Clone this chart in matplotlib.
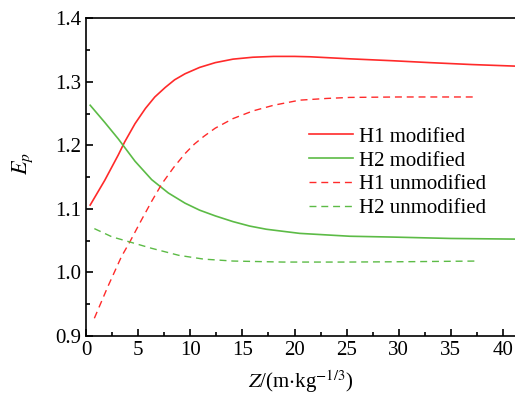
import matplotlib
matplotlib.use('Agg')
import matplotlib.pyplot as plt
from matplotlib.ticker import MultipleLocator

# values
z_h1_mod = [0.4, 1.8, 3.1, 3.7, 4.7, 5.7, 6.6, 7.6, 8.5, 9.5, 10.9, 12.4, 14.1, 16.0,
            18.0, 20.0, 21.5, 25.3, 29.4, 33.0, 37.0, 41.2]
h1_mod = [1.106, 1.145, 1.185, 1.205, 1.234, 1.258, 1.276, 1.291, 1.303, 1.3125, 1.3225,
          1.330, 1.3355, 1.3385, 1.3398, 1.3398, 1.3392, 1.336, 1.333, 1.330, 1.327, 1.3245]

z_h2_mod = [0.4, 1.8, 3.1, 4.7, 6.3, 7.9, 9.5, 10.9, 12.4, 14.1, 15.7, 17.3, 20.5, 25.3,
            29.4, 35.0, 41.2]
h2_mod = [1.263, 1.236, 1.210, 1.175, 1.146, 1.125, 1.109, 1.098, 1.089, 1.080, 1.073,
          1.068, 1.0615, 1.057, 1.0557, 1.0535, 1.0525]

z_h1_unmod = [0.8, 2.1, 3.4, 4.2, 5.3, 6.3, 7.3, 8.4, 9.5, 10.4, 11.3, 12.4, 14.1, 16.0,
              18.0, 20.5, 23.1, 25.3, 30.0, 37.3]
h1_unmod = [0.928, 0.978, 1.025, 1.048, 1.082, 1.112, 1.140, 1.165, 1.187, 1.202, 1.214,
            1.227, 1.242, 1.254, 1.263, 1.271, 1.2737, 1.2753, 1.276, 1.276]

z_h2_unmod = [0.8, 2.5, 4.2, 6.3, 8.9, 11.3, 14.1, 18.9, 25.0, 31.0, 37.6]
h2_unmod = [1.069, 1.056, 1.048, 1.038, 1.027, 1.021, 1.018, 1.0164, 1.0164, 1.017, 1.018]

RED = '#ff2a2a'
GREEN = '#5cbb46'

plt.rcParams['font.family'] = ['Liberation Serif', 'DejaVu Serif']
plt.rcParams['mathtext.fontset'] = 'stix'

fig = plt.figure(figsize=(5.15, 3.94), dpi=100)
ax = fig.add_axes([0.167, 0.147, 0.833, 0.807])

dash = (5, 3.5)
ax.plot(z_h1_mod, h1_mod, color=RED, lw=1.2, label='H1 modified')
ax.plot(z_h2_mod, h2_mod, color=GREEN, lw=1.2, label='H2 modified')
ax.plot(z_h1_unmod, h1_unmod, color=RED, lw=1.0, dashes=dash, label='H1 unmodified')
ax.plot(z_h2_unmod, h2_unmod, color=GREEN, lw=1.0, dashes=dash, label='H2 unmodified')

ax.set_xlim(0, 41.15)
ax.set_ylim(0.9, 1.4)
ax.xaxis.set_major_locator(MultipleLocator(5))
ax.xaxis.set_minor_locator(MultipleLocator(2.5))
ax.yaxis.set_major_locator(MultipleLocator(0.1))
ax.yaxis.set_minor_locator(MultipleLocator(0.05))
ax.yaxis.set_major_formatter(plt.FormatStrFormatter('%.1f'))
ax.tick_params(which='both', direction='in', top=False, right=False, labelsize=15, width=1.2)
ax.tick_params(which='major', length=5)
ax.tick_params(which='minor', length=3)
ax.spines['right'].set_visible(False)
for s in ['left', 'bottom', 'top']:
    ax.spines[s].set_linewidth(1.2)

ax.set_xlabel(r'$Z$/(m$\cdot$kg$^{-1/3}$)', fontsize=15, labelpad=6)
ax.set_ylabel(r'$E_p$', fontsize=16)
ax.yaxis.set_label_coords(-0.12, 0.544)

ax.legend(loc='upper left', bbox_to_anchor=(0.52, 0.657), frameon=False, fontsize=15,
          handlelength=2.1, handletextpad=0.3, labelspacing=0.2, borderpad=0,
          borderaxespad=0)

plt.savefig('out.png', dpi=100)
